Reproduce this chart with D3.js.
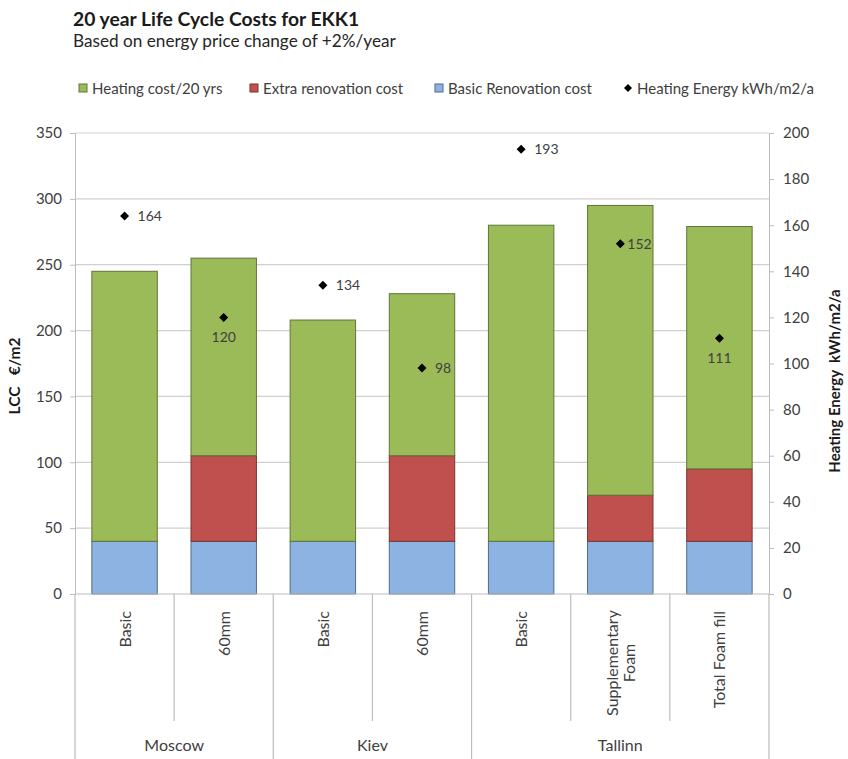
<!DOCTYPE html>
<html><head><meta charset="utf-8">
<script src="https://cdn.jsdelivr.net/npm/d3@7"></script>
<style>body{margin:0;background:#fff;} svg{display:block;font-family:Lato,"Open Sans",sans-serif;}</style>
</head><body>
<svg id="c" width="848" height="759"></svg>
<script>
const groups = ["Moscow", "Kiev", "Tallinn"];
const categories = ["Basic", "60mm", "Basic", "60mm", "Basic", "Supplementary|Foam", "Total Foam fill"];
const categoryGroup = [0, 0, 1, 1, 2, 2, 2];
const basicRenovation = [40, 40, 40, 40, 40, 40, 40];
const extraRenovation = [0, 65, 0, 65, 0, 35, 55];
const heatingCost = [205, 150, 168, 123, 240, 220, 184];
const heatingEnergy = [164, 120, 134, 98, 193, 152, 111];
const leftTicks = [0, 50, 100, 150, 200, 250, 300, 350];
const rightTicks = [0, 20, 40, 60, 80, 100, 120, 140, 160, 180, 200];
const seriesNames = ["Heating cost/20 yrs", "Extra renovation cost", "Basic Renovation cost", "Heating Energy kWh/m2/a"];

const svg = d3.select("#c");
const L = 75, R = 769, T = 133, B = 594;
const x = d3.scaleBand().domain(d3.range(categories.length)).range([L, R]).paddingInner(0.34).paddingOuter(0.17);
const xs = d3.scaleBand().domain(d3.range(categories.length)).range([L, R]);
const y = d3.scaleLinear().domain([0, 350]).range([B, T]);
const y2 = d3.scaleLinear().domain([0, 200]).range([B, T]);
const txt = "#404040";
const diamondPath = r => `M0,${-r}L${r},0L0,${r}L${-r},0Z`;

// title
svg.append("text").attr("x", 73).attr("y", 26).attr("font-size", 19.3).attr("font-weight", "bold").attr("fill", "#1a1a1a").text("20 year Life Cycle Costs for EKK1");
svg.append("text").attr("x", 73).attr("y", 47).attr("font-size", 17.2).attr("fill", "#262626").text("Based on energy price change of +2%/year");

// gridlines
svg.append("g").selectAll("line").data(leftTicks.slice(1)).join("line")
  .attr("x1", L).attr("x2", R).attr("y1", d => y(d)).attr("y2", d => y(d))
  .attr("stroke", "#d0d0d0").attr("stroke-width", 1.2);

// left axis
const ax = svg.append("g").attr("transform", `translate(${L},0)`).call(d3.axisLeft(y).tickValues(leftTicks).tickSize(5).tickPadding(8));
ax.select(".domain").attr("stroke", "#bdbdbd");
ax.selectAll(".tick line").attr("stroke", "#bdbdbd");
ax.selectAll("text").attr("font-size", 15).attr("fill", txt).attr("font-family", "Lato");
// right axis
const ax2 = svg.append("g").attr("transform", `translate(${R},0)`).call(d3.axisRight(y2).tickValues(rightTicks).tickSize(5).tickPadding(9));
ax2.select(".domain").attr("stroke", "#bdbdbd");
ax2.selectAll(".tick line").attr("stroke", "#bdbdbd");
ax2.selectAll("text").attr("font-size", 15).attr("fill", txt).attr("font-family", "Lato");

// axis titles
svg.append("text").attr("transform", "translate(20,376) rotate(-90)").attr("text-anchor", "middle").attr("font-size", 15.5).attr("font-weight", "bold").attr("fill", "#1a1a1a").attr("xml:space", "preserve").text("LCC   €/m2");
svg.append("text").attr("transform", "translate(840,381) rotate(-90)").attr("text-anchor", "middle").attr("font-size", 15).attr("font-weight", "bold").attr("fill", "#1a1a1a").attr("xml:space", "preserve").text("Heating Energy  kWh/m2/a");

// stacked bars
const rows = categories.map((c, i) => ({i, basic: basicRenovation[i], extra: extraRenovation[i], heat: heatingCost[i]}));
const stack = d3.stack().keys(["basic", "extra", "heat"])(rows);
const fills = {basic: "#8db3e2", extra: "#c0504d", heat: "#9bbb59"};
const strokes = {basic: "#4f6b8a", extra: "#7a3532", heat: "#5f7538"};
svg.append("g").selectAll("g").data(stack).join("g")
  .attr("fill", s => fills[s.key]).attr("stroke", s => strokes[s.key]).attr("stroke-width", 1)
  .selectAll("rect").data(s => s.filter(d => d[1] > d[0])).join("rect")
  .attr("x", d => x(d.data.i)).attr("width", x.bandwidth())
  .attr("y", d => y(d[1])).attr("height", d => y(d[0]) - y(d[1]));

// category axis
const cat = svg.append("g").attr("stroke", "#bdbdbd").attr("stroke-width", 1.2);
cat.append("line").attr("x1", L).attr("x2", R).attr("y1", B).attr("y2", B);
d3.range(categories.length + 1).forEach(k => {
  const xx = k < categories.length ? xs(k) : R;
  const isGroup = k === 0 || k === categories.length || categoryGroup[k] !== categoryGroup[k - 1];
  cat.append("line").attr("x1", xx).attr("x2", xx).attr("y1", B).attr("y2", isGroup ? 759 : 721);
});
categories.forEach((c, i) => {
  const lines = c.split("|");
  const cx = xs(i) + xs.bandwidth() / 2;
  const lh = 17;
  const t = svg.append("text").attr("font-size", 16).attr("fill", txt)
    .attr("transform", `translate(${cx - (lines.length - 1) * lh / 2 + 6},${lines.length > 1 ? 663 : 611}) rotate(-90)`)
    .attr("text-anchor", lines.length > 1 ? "middle" : "end");
  lines.forEach((ln, j) => t.append("tspan").attr("x", 0).attr("dy", j === 0 ? 0 : lh).text(ln));
});
groups.forEach((g, gi) => {
  const idx = d3.range(categories.length).filter(i => categoryGroup[i] === gi);
  const cx = (xs(idx[0]) + xs(idx[idx.length - 1]) + xs.bandwidth()) / 2;
  svg.append("text").attr("x", cx).attr("y", 751).attr("text-anchor", "middle").attr("font-size", 16).attr("fill", txt).text(g);
});

// heating energy markers
const mx = i => x(i) + x.bandwidth() / 2;
svg.append("g").selectAll("path").data(heatingEnergy).join("path")
  .attr("d", diamondPath(4.5)).attr("transform", (d, i) => `translate(${mx(i)},${y2(d)})`).attr("fill", "#000");
const placement = ["r", "b", "r", "r", "r", "rc", "b"];
svg.append("g").selectAll("text").data(heatingEnergy).join("text")
  .attr("font-size", 14).attr("fill", txt)
  .attr("x", (d, i) => placement[i] === "b" ? mx(i) : mx(i) + (placement[i] === "rc" ? 7 : 13))
  .attr("y", (d, i) => y2(d) + (placement[i] === "b" ? 25 : 5))
  .attr("text-anchor", (d, i) => placement[i] === "b" ? "middle" : "start")
  .text(d => d);

// legend
const legX = [79, 250, 435, 624];
const lg = svg.append("g");
seriesNames.forEach((n, k) => {
  const gx = legX[k];
  if (k < 3) {
    const key = ["heat", "extra", "basic"][k];
    lg.append("rect").attr("x", gx).attr("y", 84).attr("width", 8).attr("height", 8).attr("fill", fills[key]).attr("stroke", strokes[key]);
  } else {
    lg.append("path").attr("d", diamondPath(4)).attr("transform", `translate(${gx + 4},88)`).attr("fill", "#000");
  }
  lg.append("text").attr("x", gx + 13).attr("y", 93.5).attr("font-size", 15).attr("fill", txt).text(n);
});
</script>
</body></html>
